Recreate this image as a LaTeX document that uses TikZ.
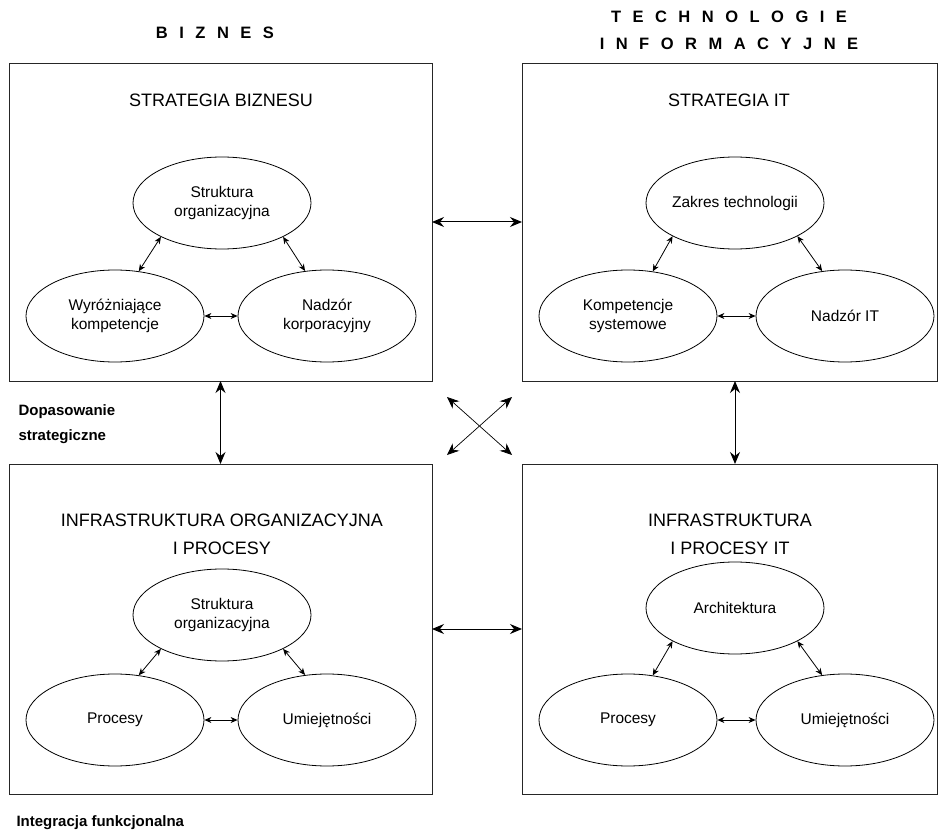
\documentclass[tikz,border=0pt]{standalone}
\usepackage{fontspec}
\setmainfont{Liberation Sans}
\usetikzlibrary{shapes.geometric,arrows.meta}

% letter-spaced heading: extra gap between capitals
\newcommand\hg{\hspace{11.5pt}}

\begin{document}
\begin{tikzpicture}[x=1pt,y=-1pt,
  panel/.style={draw=black!85,line width=0.9pt,inner sep=0pt,outer sep=0pt},
  oval/.style={ellipse,draw=black,line width=0.8pt,minimum width=178pt,minimum height=92pt,
    inner sep=0pt,align=center,font=\fontsize{15.5}{18.5}\selectfont},
  paneltitle/.style={align=center,font=\fontsize{18}{28}\selectfont},
  heading/.style={align=center,font=\bfseries\fontsize{16.5}{27}\selectfont},
  note/.style={anchor=west,align=left,font=\bfseries\fontsize{15}{25}\selectfont},
  link/.style={<->,line width=0.8pt,>={Stealth[length=7pt,width=6pt,inset=2.2pt]}},
  biglink/.style={<->,line width=1pt,>={Stealth[length=12pt,width=10pt,inset=4pt]}},
  crosslink/.style={<->,line width=0.7pt,>={Stealth[length=12pt,width=10pt,inset=4pt]}}]

\useasboundingbox (0,0) rectangle (938,832);

% column headings
\node[heading] (hbiz) at (215,33) {B\hg I\hg Z\hg N\hg E\hg S};
\node[heading] (hit) at (729,30.5) {T\hg E\hg C\hg H\hg N\hg O\hg L\hg O\hg G\hg I\hg E\\
  I\hg N\hg F\hg O\hg R\hg M\hg A\hg C\hg Y\hg J\hg N\hg E};

% four panels
\node[panel,minimum width=423pt,minimum height=318pt] (tl) at (220.5,222) {};
\node[panel,minimum width=415pt,minimum height=318pt] (tr) at (729.5,222) {};
\node[panel,minimum width=423pt,minimum height=330pt] (bl) at (220.5,629) {};
\node[panel,minimum width=415pt,minimum height=330pt] (br) at (729.5,629) {};

% panel titles
\node[paneltitle] (ttl) at (221,100) {STRATEGIA BIZNESU};
\node[paneltitle] (ttr) at (729,100) {STRATEGIA IT};
\node[paneltitle] (tbl) at (222,534) {INFRASTRUKTURA ORGANIZACYJNA\\I PROCESY};
\node[paneltitle] (tbr) at (730,534) {INFRASTRUKTURA\\I PROCESY IT};

% business strategy
\node[oval] (s1) at (222,203) {Struktura\\organizacyjna};
\node[oval] (s2) at (115,316) {Wyróżniające\\kompetencje};
\node[oval] (s3) at (327,316) {Nadzór\\korporacyjny};
\draw[link] (s1.209) -- (s2.62);
\draw[link] (s1.331) -- (s3.116);
\draw[link] (s2.east) -- (s3.west);

% IT strategy
\node[oval] (t1) at (735,203) {Zakres technologii};
\node[oval] (t2) at (628,316) {Kompetencje\\systemowe};
\node[oval] (t3) at (845,316) {Nadzór IT};
\draw[link] (t1.208) -- (t2.61);
\draw[link] (t1.332) -- (t3.117);
\draw[link] (t2.east) -- (t3.west);

% organisational infrastructure
\node[oval] (o1) at (222,615) {Struktura\\organizacyjna};
\node[oval] (o2) at (115,720) {Procesy};
\node[oval] (o3) at (327,720) {Umiejętności};
\draw[link] (o1.209) -- (o2.62);
\draw[link] (o1.331) -- (o3.116);
\draw[link] (o2.east) -- (o3.west);

% IT infrastructure
\node[oval] (i1) at (735,608) {Architektura};
\node[oval] (i2) at (628,720) {Procesy};
\node[oval] (i3) at (845,720) {Umiejętności};
\draw[link] (i1.208) -- (i2.61);
\draw[link] (i1.332) -- (i3.117);
\draw[link] (i2.east) -- (i3.west);

% links between panels
\draw[biglink] (tl.east) -- (tr.west);
\draw[biglink] (bl.east) -- (br.west);
\draw[biglink] (tl.south) -- (bl.north);
\draw[biglink] ([xshift=5.5pt]tr.south) -- ([xshift=5.5pt]br.north);

% diagonal cross-links
\coordinate (cnw) at (447,397);
\coordinate (cne) at (512,397);
\coordinate (csw) at (447,455);
\coordinate (cse) at (512,455);
\draw[crosslink] (cnw) -- (cse);
\draw[crosslink] (cne) -- (csw);

% side notes
\node[note] (dop) at (15,424.5) {Dopasowanie\\strategiczne};
\node[note] (int) at (13,823) {Integracja funkcjonalna};

\end{tikzpicture}
\end{document}
